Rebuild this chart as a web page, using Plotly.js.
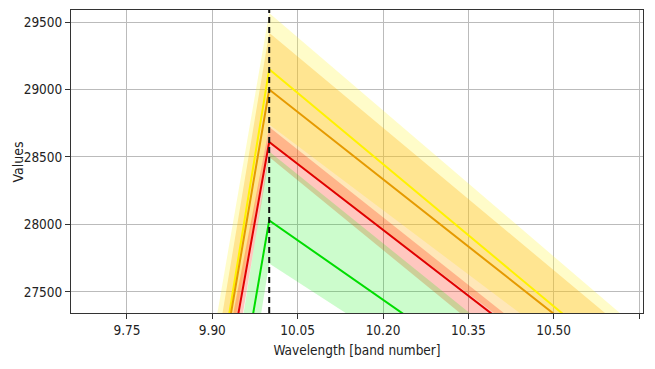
<!DOCTYPE html>
<html>
<head>
<meta charset="utf-8">
<script src="https://cdn.plot.ly/plotly-3.0.1.min.js"></script>
<style>html,body{margin:0;padding:0;background:#fff;}#chart{width:655px;height:369px;}</style>
</head>
<body>
<div id="chart"></div>
<script>
// band numbers
const bands = [9, 10, 11];

// series: mean values and band limits
const yellowMean  = [3364, 29150, 25638];
const yellowUpper = [5149, 29567, 25960];
const yellowLower = [4688, 28740, 25570];

const orangeMean  = [4299, 29000, 25677];
const orangeUpper = [4115, 29420, 25903];
const orangeLower = [6189, 28600, 25423];

const redMean  = [5167, 28611, 25357];
const redUpper = [6865, 28722, 25380];
const redLower = [3391, 28500, 25052];

const greenMean  = [3566, 28030, 25090];
const greenUpper = [1984, 28540, 25145];
const greenLower = [1568, 27711, 24980];

const series = [
  {mean: yellowMean, up: yellowUpper, lo: yellowLower, line: '#fff200', fill: 'rgba(255,245,60,0.28)'},
  {mean: orangeMean, up: orangeUpper, lo: orangeLower, line: '#e59a00', fill: 'rgba(255,170,0,0.28)'},
  {mean: redMean, up: redUpper, lo: redLower, line: '#e00000', fill: 'rgba(255,30,0,0.25)'},
  {mean: greenMean, up: greenUpper, lo: greenLower, line: '#00dd00', fill: 'rgba(0,240,0,0.2)'}
];

const traces = [];
series.forEach(s => {
  traces.push({x: bands, y: s.up, mode: 'lines', line: {width: 0}, showlegend: false, hoverinfo: 'skip'});
  traces.push({x: bands, y: s.lo, mode: 'lines', line: {width: 0}, fill: 'tonexty', fillcolor: s.fill, showlegend: false, hoverinfo: 'skip'});
});
series.forEach(s => {
  traces.push({x: bands, y: s.mean, mode: 'lines', line: {color: s.line, width: 2}, showlegend: false});
});

// peak band (position of maximum of first series)
const peakBand = bands[yellowMean.indexOf(Math.max(...yellowMean))];

const FONT = '"DejaVu Sans Condensed", "DejaVu Sans", sans-serif';

const layout = {
  width: 655, height: 369,
  margin: {l: 71, r: 12, t: 10, b: 56},
  paper_bgcolor: '#ffffff', plot_bgcolor: '#ffffff',
  showlegend: false,
  font: {family: FONT, size: 13, color: '#222'},
  xaxis: {
    range: [9.6516, 10.657],
    tickvals: [9.75, 9.90, 10.05, 10.20, 10.35, 10.50, 10.65],
    ticktext: ['9.75', '9.90', '10.05', '10.20', '10.35', '10.50', '10.65'],
    showgrid: true, gridcolor: '#bbbbbb', gridwidth: 1,
    zeroline: false,
    showline: true, linecolor: '#333', linewidth: 1, mirror: true,
    ticks: 'outside', ticklen: 5, tickcolor: '#333',
    tickfont: {family: FONT, size: 13.5, color: '#222'},
    title: {text: 'Wavelength [band number]', font: {family: FONT, size: 13.5, color: '#222'}, standoff: 8}
  },
  yaxis: {
    range: [27344, 29589],
    tickvals: [27500, 28000, 28500, 29000, 29500],
    ticktext: ['27500', '28000', '28500', '29000', '29500'],
    showgrid: true, gridcolor: '#bbbbbb', gridwidth: 1,
    zeroline: false,
    showline: true, linecolor: '#333', linewidth: 1, mirror: true,
    ticks: 'outside', ticklen: 5, tickcolor: '#333',
    tickfont: {family: FONT, size: 13.5, color: '#222'}
  },
  annotations: [{
    text: 'Values', xref: 'paper', yref: 'paper', x: -0.0927, y: 0.5,
    xanchor: 'center', yanchor: 'middle', textangle: -90, showarrow: false,
    font: {family: FONT, size: 14, color: '#222'}
  }],
  shapes: [{
    type: 'line', xref: 'x', yref: 'paper', x0: peakBand, x1: peakBand, y0: 0, y1: 1,
    line: {color: '#111', width: 2, dash: '6px,4px'}
  }]
};

Plotly.newPlot('chart', traces, layout, {displayModeBar: false, staticPlot: true});
</script>
</body>
</html>
